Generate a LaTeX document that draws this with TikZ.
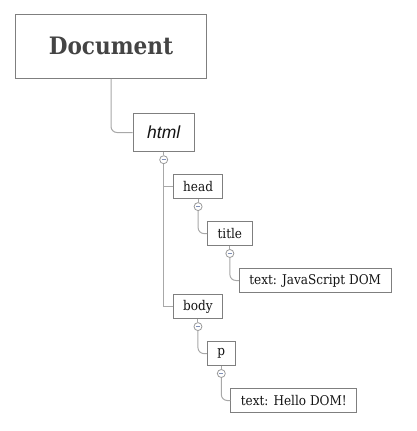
\documentclass[tikz,border=0pt]{standalone}
\usepackage{fontspec}
\setmainfont{DejaVu Serif Condensed}
\newfontfamily\htmlfont{Liberation Sans}
\usetikzlibrary{positioning}
\definecolor{boxgray}{HTML}{7F7F7F}
\definecolor{linkgray}{HTML}{A8A8A8}
\definecolor{minusblue}{HTML}{8090B8}
\definecolor{inkgray}{HTML}{444444}

\begin{document}
\begin{tikzpicture}[x=1pt,y=-1pt,line width=1pt,
	tag node/.style = {rectangle,draw=boxgray,fill=white,inner xsep=10pt,minimum height=24pt,
		font=\fontsize{13.4}{13.4}\selectfont,text=black!92},
	toggle/.style = {circle,draw=boxgray!80,fill=white,inner sep=0pt,minimum size=8pt,line width=0.8pt,
		path picture={\draw[minusblue,line width=0.8pt] ([xshift=-2pt]path picture bounding box.center) -- ([xshift=2pt]path picture bounding box.center);}},
	link/.style = {draw=linkgray,rounded corners=6pt}]

	\useasboundingbox (0,0) rectangle (416,431);

	\node[rectangle,draw=boxgray,minimum width=191pt,minimum height=64pt,
		font=\bfseries\fontsize{24}{24}\selectfont,text=inkgray] (doc) at (111,46.3) {Document};
	\node[rectangle,draw=boxgray,minimum width=61pt,minimum height=38.6pt,
		font=\htmlfont\itshape\fontsize{17.5}{17.5}\selectfont,text=black!92]
		[below right=53.7pt and 21.7pt of doc.south,anchor=west] (html) {html};
	\node[toggle,below=3pt of html] (html-t) {};

	\node[tag node] [below right=27pt and 9pt of html-t.center,anchor=west] (head) {head};
	\node[toggle,below=3pt of head] (head-t) {};
	\node[tag node] [below right=27pt and 9pt of head-t.center,anchor=west] (title) {title};
	\node[toggle,below=3pt of title] (title-t) {};
	\node[tag node] [below right=27pt and 9pt of title-t.center,anchor=west] (title-text) {text: JavaScript DOM};

	\node[tag node] [below right=147pt and 9pt of html-t.center,anchor=west] (body) {body};
	\node[toggle,below=3pt of body] (body-t) {};
	\node[tag node] [below right=27pt and 9pt of body-t.center,anchor=west] (p) {p};
	\node[toggle,below=3pt of p] (p-t) {};
	\node[tag node] [below right=27pt and 9pt of p-t.center,anchor=west] (p-text) {text: Hello DOM!};

	\draw[link] (doc) |- (html);
	\foreach \from/\to in {html/html-t,head/head-t,title/title-t,body/body-t,p/p-t}
		\draw[draw=linkgray] (\from) -- (\to);
	\draw[draw=linkgray] (html-t) |- (head);
	\draw[draw=linkgray] (html-t) |- (body);
	\draw[link] (head-t) |- (title);
	\draw[link] (title-t) |- (title-text);
	\draw[link] (body-t) |- (p);
	\draw[link] (p-t) |- (p-text);
\end{tikzpicture}
\end{document}
